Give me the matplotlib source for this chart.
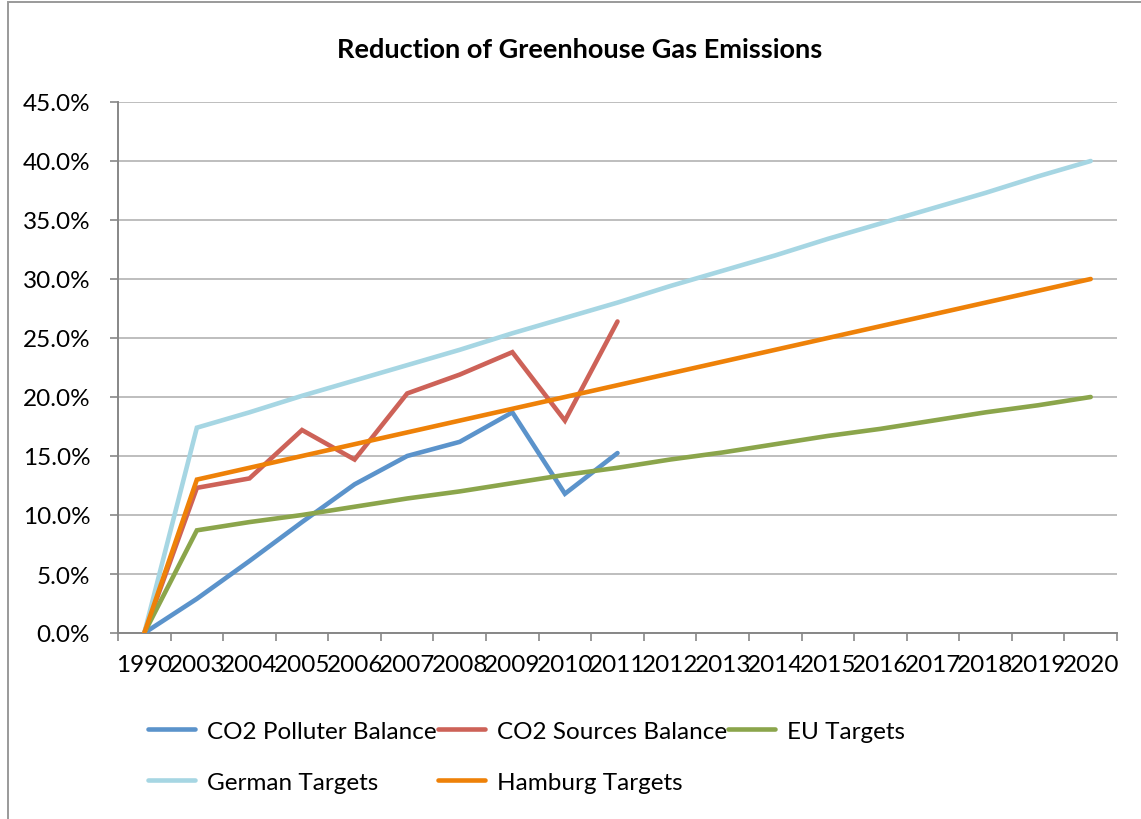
import matplotlib
matplotlib.use("Agg")
import matplotlib.pyplot as plt
from matplotlib.ticker import FixedLocator, FuncFormatter
from matplotlib.patches import Rectangle

plt.rcParams['font.family'] = ['Lato', 'DejaVu Sans']

years = ["1990", "2003", "2004", "2005", "2006", "2007", "2008", "2009", "2010",
         "2011", "2012", "2013", "2014", "2015", "2016", "2017", "2018", "2019", "2020"]

polluter = [0.0, 2.9, 6.1, 9.4, 12.6, 15.0, 16.2, 18.7, 11.8, 15.25]
sources = [0.0, 12.3, 13.1, 17.2, 14.7, 20.3, 21.9, 23.8, 18.0, 26.4]
eu = [0.0, 8.7, 9.4, 10.0, 10.7, 11.4, 12.0, 12.7, 13.4, 14.0, 14.7, 15.3, 16.0,
      16.7, 17.3, 18.0, 18.7, 19.3, 20.0]
german = [0.0, 17.4, 18.7, 20.1, 21.4, 22.7, 24.0, 25.4, 26.7, 28.0, 29.4, 30.7,
          32.0, 33.4, 34.7, 36.0, 37.3, 38.7, 40.0]
hamburg = [0.0, 13.0, 14.0, 15.0, 16.0, 17.0, 18.0, 19.0, 20.0, 21.0, 22.0, 23.0,
           24.0, 25.0, 26.0, 27.0, 28.0, 29.0, 30.0]

series = [
    ("CO2 Polluter Balance", polluter, "#5B93CB"),
    ("CO2 Sources Balance", sources, "#CD6258"),
    ("EU Targets", eu, "#8BA54B"),
    ("German Targets", german, "#A6D6E3"),
    ("Hamburg Targets", hamburg, "#EE8108"),
]

fig = plt.figure(figsize=(11.41, 8.2), dpi=100)
W, H = 1141, 820
ax = fig.add_axes([118 / W, 1 - 634 / H, (1117 - 118) / W, (634 - 103) / H])

handles = {}
for name, vals, col in series:
    x = list(range(len(vals)))
    (ln,) = ax.plot(x, [v / 100 for v in vals], color=col, lw=3.3,
                    solid_capstyle='round', solid_joinstyle='miter', label=name, zorder=3)
    handles[name] = ln

ax.set_xlim(-0.5, len(years) - 0.5)
ax.set_ylim(0, 0.45)

ax.yaxis.set_major_locator(FixedLocator([i * 0.05 for i in range(10)]))
ax.yaxis.set_major_formatter(FuncFormatter(lambda v, p: f"{v * 100:.1f}%"))
ax.grid(axis='y', color='#BEBEBE', lw=1.4, zorder=0)

ax.xaxis.set_major_locator(FixedLocator([i - 0.5 for i in range(len(years) + 1)]))
ax.xaxis.set_major_formatter(FuncFormatter(lambda v, p: ""))
ax.xaxis.set_minor_locator(FixedLocator(list(range(len(years)))))
ax.set_xticklabels(years, minor=True)
ax.tick_params(axis='x', which='minor', length=0, pad=15, labelsize=17.5)
ax.tick_params(axis='x', which='major', length=6, width=1.2, color='#878787', direction='out')
ax.tick_params(axis='y', length=6, width=1.2, color='#878787', labelsize=17.5, pad=14)

for s in ['top', 'right']:
    ax.spines[s].set_visible(False)
for s in ['left', 'bottom']:
    ax.spines[s].set_color('#878787')
    ax.spines[s].set_linewidth(1.4)

fig.text(580 / W, 1 - 50 / H, "Reduction of Greenhouse Gas Emissions",
         ha='center', va='center', fontsize=19.5, fontweight='bold')

order = ["CO2 Polluter Balance", "German Targets", "CO2 Sources Balance",
         "Hamburg Targets", "EU Targets"]
leg = fig.legend([handles[n] for n in order], order, ncol=3, loc='upper left',
                 bbox_to_anchor=(138 / W, 1 - 712 / H), frameon=False, fontsize=17.5,
                 handlelength=1.93, handletextpad=0.5, columnspacing=0.05,
                 labelspacing=1.23, borderaxespad=0)

fig.add_artist(Rectangle((8 / W, -0.1), 1.2, 1 - 3 / H + 0.1, transform=fig.transFigure,
                         fill=False, edgecolor='#9A9A9A', lw=1.4))

fig.savefig("out.png", dpi=100)
